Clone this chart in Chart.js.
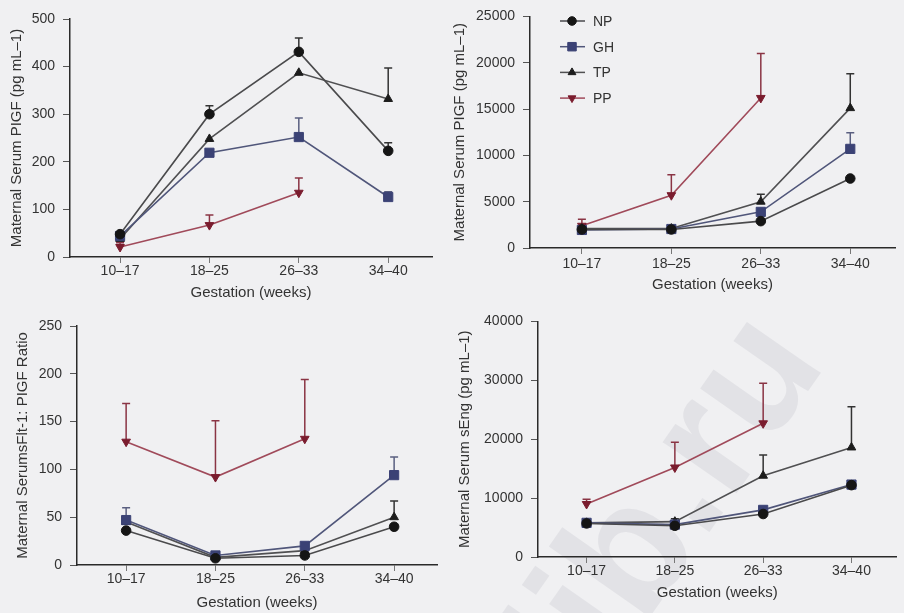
<!DOCTYPE html>
<html lang="en">
<head>
<meta charset="utf-8">
<title>PlGF, sFlt-1:PlGF and sEng by gestation</title>
<script src="https://cdn.jsdelivr.net/npm/chart.js@4.4.1/dist/chart.umd.min.js"></script>
<style>
    html, body { margin: 0; padding: 0; }
    body { width: 904px; height: 613px; background: #f0f0f2; position: relative; overflow: hidden; }
    canvas { position: absolute; }
    #watermark {
        position: absolute; left: 452px; top: 415px;
        font: bold 170px "Liberation Sans", Arial, sans-serif; line-height: 1;
        color: #e2e2e6; white-space: nowrap;
        transform: rotate(-55deg); transform-origin: center;
    }
</style>
</head>
<body>
<div id="watermark">lib.ru</div>
<canvas id="chartA" width="450" height="305" style="left:0;top:0"></canvas>
<canvas id="chartB" width="454" height="300" style="left:450px;top:0"></canvas>
<canvas id="chartC" width="450" height="308" style="left:0;top:305px"></canvas>
<canvas id="chartD" width="454" height="308" style="left:450px;top:305px"></canvas>
<script>
// --- Daten ---
const gestation = ["10–17", "18–25", "26–33", "34–40"];
const groups = ["NP", "GH", "TP", "PP"];

// oben links: PlGF
const plgfNP = [48, 300, 431, 223];
const plgfGH = [44, 219, 252, 126];
const plgfTP = [38, 248, 387, 332];
const plgfPP = [21, 67, 135, null];
const plgfErrNP = [null, 318, 460, 240];
const plgfErrGH = [null, null, 292, 137];
const plgfErrTP = [null, null, null, 397];
const plgfErrPP = [30, 88, 166, null];
const plgfTicks = [0, 100, 200, 300, 400, 500];

// oben rechts
const upperNP = [2000, 2000, 2900, 7500];
const upperGH = [1950, 2050, 3900, 10700];
const upperTP = [2100, 2100, 5000, 15100];
const upperPP = [2400, 5700, 16200, null];
const upperErrNP = [null, null, null, null];
const upperErrGH = [null, null, null, 12450];
const upperErrTP = [null, null, 5800, 18800];
const upperErrPP = [3100, 7900, 21000, null];
const upperTicks = [0, 5000, 10000, 15000, 20000, 25000];

// unten links: sFlt-1:PlGF Ratio
const ratioNP = [36, 7, 10, 40];
const ratioGH = [47, 10, 20, 94];
const ratioTP = [45, 8, 15, 50];
const ratioPP = [129, 92, 132, null];
const ratioErrNP = [null, null, null, null];
const ratioErrGH = [60, null, null, 113];
const ratioErrTP = [null, null, null, 67];
const ratioErrPP = [169, 151, 194, null];
const ratioTicks = [0, 50, 100, 150, 200, 250];

// unten rechts: sEng
const sengNP = [5700, 5300, 7300, 12200];
const sengGH = [5800, 5500, 8000, 12300];
const sengTP = [5800, 6000, 13800, 18600];
const sengPP = [9000, 15200, 22700, null];
const sengErrNP = [null, null, null, null];
const sengErrGH = [null, null, null, null];
const sengErrTP = [null, 6500, 17300, 25500];
const sengErrPP = [9800, 19500, 29500, null];
const sengTicks = [0, 10000, 20000, 30000, 40000];

const fontFamily = "'Liberation Sans', Arial, sans-serif";

// --- Aussehen der Gruppen ---
const styles = {
    NP: { line: "#4a4a4c", fill: "#151515", err: "#333", shape: "circle", rot: 0, r: 4.8 },
    GH: { line: "#50567a", fill: "#3b4275", err: "#5a5f80", shape: "rect", rot: 0, r: 6.5 },
    TP: { line: "#505052", fill: "#1c1c1c", err: "#333", shape: "triangle", rot: 0, r: 5 },
    PP: { line: "#a04a5a", fill: "#7a1c2e", err: "#8a3444", shape: "triangle", rot: 180, r: 5 }
};

function series(name, values, errTop) {
    const st = styles[name];
    return {
        label: name,
        data: values.map((v, i) => ({ x: i, y: v })),
        errTop: errTop,
        borderColor: st.line,
        backgroundColor: st.fill,
        pointBackgroundColor: st.fill,
        pointBorderColor: st.fill,
        pointStyle: st.shape,
        pointRotation: st.rot,
        pointRadius: st.r,
        pointBorderWidth: 1,
        borderWidth: 1.6,
        tension: 0,
        spanGaps: false
    };
}

// --- Fehlerbalken (nur nach oben) ---
const errorBars = {
    id: "errorBars",
    beforeDatasetsDraw(chart) {
        const ctx = chart.ctx;
        const xs = chart.scales.x, ys = chart.scales.y;
        chart.data.datasets.forEach(ds => {
            if (!ds.errTop) return;
            const st = styles[ds.label];
            ctx.save();
            ctx.strokeStyle = st.err;
            ctx.lineWidth = 1.5;
            ds.errTop.forEach((top, i) => {
                if (top == null || ds.data[i].y == null) return;
                const px = xs.getPixelForValue(i);
                const y0 = ys.getPixelForValue(ds.data[i].y);
                const y1 = ys.getPixelForValue(top);
                ctx.beginPath();
                ctx.moveTo(px, y0);
                ctx.lineTo(px, y1);
                ctx.moveTo(px - 4, y1);
                ctx.lineTo(px + 4, y1);
                ctx.stroke();
            });
            ctx.restore();
        });
    }
};

// --- Legende im Diagramm ---
const innerLegend = {
    id: "innerLegend",
    afterDraw(chart, args, opts) {
        if (!opts.show) return;
        const ctx = chart.ctx;
        groups.forEach((g, k) => {
            const st = styles[g];
            const y = opts.y + k * opts.step;
            ctx.save();
            ctx.strokeStyle = st.line;
            ctx.lineWidth = 1.5;
            ctx.beginPath();
            ctx.moveTo(opts.x - 12, y);
            ctx.lineTo(opts.x + 13, y);
            ctx.stroke();
            ctx.fillStyle = st.fill;
            ctx.strokeStyle = st.fill;
            ctx.lineWidth = 1;
            Chart.helpers.drawPoint(ctx, { pointStyle: st.shape, rotation: st.rot, radius: st.r - 0.5, borderWidth: 1 }, opts.x, y);
            ctx.fillStyle = "#333";
            ctx.font = "14px " + fontFamily;
            ctx.textBaseline = "middle";
            ctx.fillText(g, opts.x + 21, y + 1);
            ctx.restore();
        });
    }
};

function makePanel(id, p) {
    new Chart(document.getElementById(id), {
        type: "line",
        data: {
            datasets: [
                series("NP", p.np, p.errNP),
                series("GH", p.gh, p.errGH),
                series("TP", p.tp, p.errTP),
                series("PP", p.pp, p.errPP)
            ]
        },
        options: {
            responsive: false,
            animation: false,
            layout: { padding: { top: p.padTop, right: p.padRight, left: 0, bottom: 0 } },
            plugins: {
                legend: { display: false },
                tooltip: { enabled: false },
                innerLegend: p.legend || { show: false }
            },
            scales: {
                x: {
                    type: "linear",
                    min: p.xMin,
                    max: p.xMax,
                    afterBuildTicks: s => { s.ticks = gestation.map((g, i) => ({ value: i })); },
                    afterFit: s => { s.height = p.xHeight; },
                    border: { color: "#2a2a2a", width: 1.5 },
                    grid: { drawOnChartArea: false, tickLength: 6, color: "#777" },
                    ticks: {
                        callback: v => gestation[v],
                        color: "#333",
                        font: { family: fontFamily, size: 14 },
                        padding: p.xTickPad,
                        maxRotation: 0,
                        autoSkip: false
                    },
                    title: {
                        display: true,
                        text: "Gestation (weeks)",
                        color: "#333",
                        font: { family: fontFamily, size: 15 },
                        padding: { top: 0, bottom: p.xTitlePad }
                    }
                },
                y: {
                    min: 0,
                    max: p.ticks[p.ticks.length - 1],
                    afterBuildTicks: s => { s.ticks = p.ticks.map(v => ({ value: v })); },
                    afterFit: s => { s.width = p.yWidth; },
                    border: { color: "#2a2a2a", width: 1.5 },
                    grid: { drawOnChartArea: false, tickLength: 7, color: "#555" },
                    ticks: {
                        callback: v => String(v),
                        color: "#333",
                        font: { family: fontFamily, size: 14 },
                        padding: 8
                    },
                    title: {
                        display: true,
                        text: p.yTitle,
                        color: "#333",
                        font: { family: fontFamily, size: 15 },
                        padding: { top: p.yTitlePad, bottom: 0 }
                    }
                }
            }
        },
        plugins: [errorBars, innerLegend]
    });
}

// --- Seite initialisieren ---
makePanel("chartA", {
    np: plgfNP, gh: plgfGH, tp: plgfTP, pp: plgfPP,
    errNP: plgfErrNP, errGH: plgfErrGH, errTP: plgfErrTP, errPP: plgfErrPP,
    ticks: plgfTicks, yTitle: "Maternal Serum PIGF (pg mL–1)",
    padTop: 19, padRight: 18, yWidth: 70, xHeight: 48,
    xMin: -0.56, xMax: 3.49, xTickPad: 0, xTitlePad: 3, yTitlePad: 8
});

makePanel("chartB", {
    np: upperNP, gh: upperGH, tp: upperTP, pp: upperPP,
    errNP: upperErrNP, errGH: upperErrGH, errTP: upperErrTP, errPP: upperErrPP,
    ticks: upperTicks, yTitle: "Maternal Serum PIGF (pg mL–1)",
    padTop: 11, padRight: 9, yWidth: 80, xHeight: 52,
    xMin: -0.58, xMax: 3.5, xTickPad: 2, xTitlePad: 6, yTitlePad: 1,
    legend: { show: true, x: 122, y: 21, step: 25.7 }
});

makePanel("chartC", {
    np: ratioNP, gh: ratioGH, tp: ratioTP, pp: ratioPP,
    errNP: ratioErrNP, errGH: ratioErrGH, errTP: ratioErrTP, errPP: ratioErrPP,
    ticks: ratioTicks, yTitle: "Maternal SerumsFlt-1: PIGF Ratio",
    padTop: 21, padRight: 13, yWidth: 77, xHeight: 48,
    xMin: -0.55, xMax: 3.48, xTickPad: 0, xTitlePad: 1, yTitlePad: 14
});

makePanel("chartD", {
    np: sengNP, gh: sengGH, tp: sengTP, pp: sengPP,
    errNP: sengErrNP, errGH: sengErrGH, errTP: sengErrTP, errPP: sengErrPP,
    ticks: sengTicks, yTitle: "Maternal Serum sEng (pg mL–1)",
    padTop: 12, padRight: 2, yWidth: 88, xHeight: 56,
    xMin: -0.55, xMax: 3.51, xTickPad: 0, xTitlePad: 11, yTitlePad: 6
});
</script>
</body>
</html>
